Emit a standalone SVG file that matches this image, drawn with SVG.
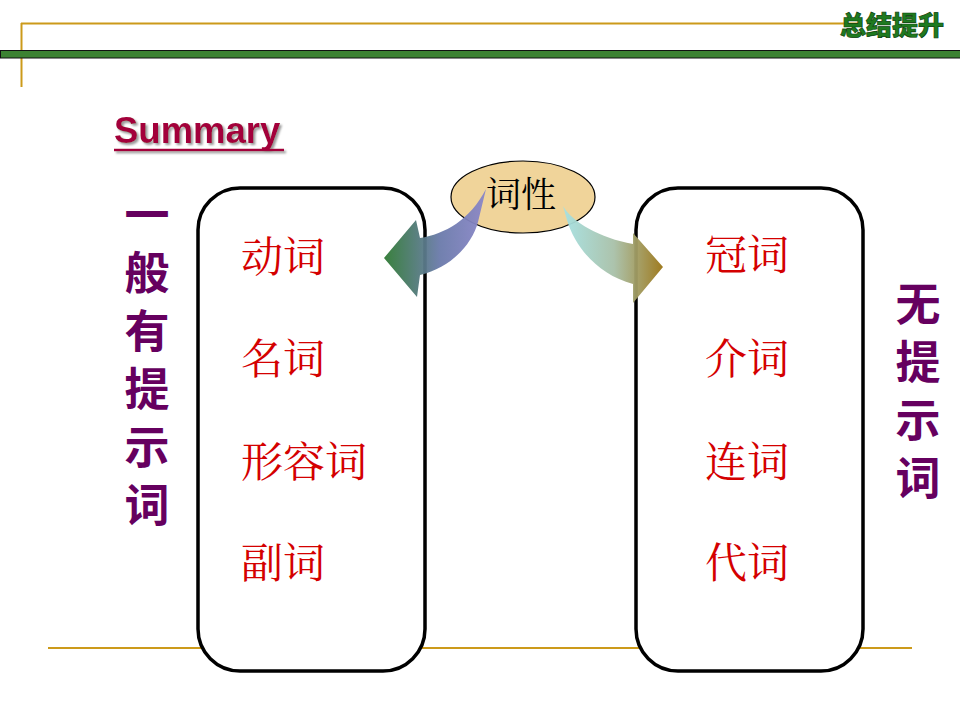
<svg xmlns="http://www.w3.org/2000/svg" width="960" height="720" viewBox="0 0 960 720">
<defs>
<style>
.gold{stroke:#CC9A1A;stroke-width:2;fill:none}
.box{fill:#fff;stroke:#000;stroke-width:3.5}
.item{font-family:"Noto Serif CJK SC","Noto Sans CJK SC",serif;font-size:42px;fill:#D40000}
.vert{font-family:"Noto Sans CJK SC",sans-serif;font-size:45px;font-weight:bold;fill:#66005F;writing-mode:vertical-rl;letter-spacing:13px}
.hdr{font-family:"Noto Sans CJK SC",sans-serif;font-size:26px;font-weight:900;fill:#1F7A1F;stroke:#0A3F0A;stroke-width:0.7}
</style>
<linearGradient id="gL" x1="384" y1="0" x2="485" y2="0" gradientUnits="userSpaceOnUse">
<stop offset="0" stop-color="#2F7A33"/>
<stop offset="0.55" stop-color="#6A7AAA"/>
<stop offset="1" stop-color="#8A86C8"/>
</linearGradient>
<linearGradient id="gR" x1="565" y1="0" x2="663" y2="0" gradientUnits="userSpaceOnUse">
<stop offset="0" stop-color="#A6E0E0"/>
<stop offset="0.5" stop-color="#A8C0A8"/>
<stop offset="1" stop-color="#9A7414"/>
</linearGradient>
<filter id="sh" x="-10%" y="-10%" width="120%" height="130%">
<feGaussianBlur in="SourceAlpha" stdDeviation="0.8"/>
<feOffset dx="2" dy="2" result="b"/>
<feFlood flood-color="#999"/>
<feComposite in2="b" operator="in"/>
<feMerge><feMergeNode/><feMergeNode in="SourceGraphic"/></feMerge>
</filter>
</defs>
<rect width="960" height="720" fill="#fff"/>
<g id="header">
<line class="gold" x1="21" y1="23.5" x2="862" y2="23.5"/>
<line class="gold" x1="21.5" y1="23" x2="21.5" y2="87"/>
<rect x="0.5" y="50.5" width="960" height="7.5" fill="#3C8232" stroke="#111" stroke-width="1"/>
<text class="hdr" x="840" y="35">总结提升</text>
</g>
<g id="summary" filter="url(#sh)">
<text x="114" y="143" font-family="Liberation Sans, Arial, sans-serif" font-weight="bold" font-size="36.5" fill="#A3003A">Summary</text>
<line x1="114" y1="150" x2="284" y2="150" stroke="#A3003A" stroke-width="2.5"/>
</g>
<line id="bottom-line" class="gold" x1="48" y1="648" x2="912" y2="648"/>
<g id="left-box">
<rect class="box" x="198" y="188" width="227" height="483" rx="42" ry="42"/>
<text class="item" x="241" y="272">动词</text>
<text class="item" x="241" y="374">名词</text>
<text class="item" x="241" y="477">形容词</text>
<text class="item" x="241" y="578">副词</text>
</g>
<g id="right-box">
<rect class="box" x="636" y="188" width="227" height="483" rx="42" ry="42"/>
<text class="item" x="705" y="270">冠词</text>
<text class="item" x="705" y="374">介词</text>
<text class="item" x="705" y="477">连词</text>
<text class="item" x="705" y="578">代词</text>
</g>
<g id="left-label">
<text class="vert" x="147" y="192">一般有提示词</text>
</g>
<g id="right-label">
<text class="vert" x="918" y="281">无提示词</text>
</g>
<g id="node-cixing">
<ellipse cx="523" cy="197" rx="72" ry="36" fill="#F0D49A" stroke="#000" stroke-width="1.2"/>
</g>
<g id="connectors">
<path d="M486,189 C470,220 445,234 420,238 L416,220 L384,258 L417,297 L420,275 C450,268 472,245 478,222 Z" fill="url(#gL)" opacity="0.95"/>
<path d="M563,206 C572,222 600,238 633,244 L633,233 L663,267 L633,303 L633,284 C600,275 576,250 567,220 Z" fill="url(#gR)" opacity="0.95"/>
</g>
<text id="label-cixing" x="521" y="207" text-anchor="middle" font-family="Noto Serif CJK SC,Noto Sans CJK SC,serif" font-size="35" fill="#000">词性</text>
</svg>
